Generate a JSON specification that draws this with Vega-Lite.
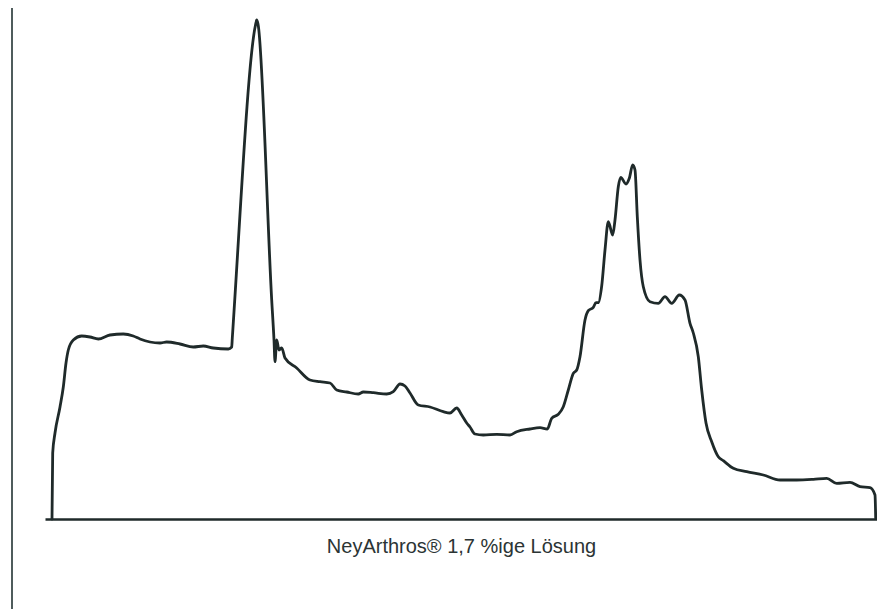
{
  "$schema": "https://vega.github.io/schema/vega-lite/v6.json",
  "autosize": "none",
  "width": 832,
  "height": 519,
  "padding": {"left": 45, "top": 0, "right": 0, "bottom": 90},
  "background": "#ffffff",
  "config": {
    "view": {"stroke": null},
    "font": "Liberation Sans"
  },
  "encoding": {
    "x": {
      "field": "strecke",
      "type": "quantitative",
      "scale": {"domain": [0, 832], "nice": false, "zero": false},
      "axis": {
        "title": "NeyArthros® 1,7 %ige Lösung",
        "titleFont": "Liberation Sans",
        "titleFontSize": 20,
        "titleFontWeight": "normal",
        "titleColor": "#2b3434",
        "titlePadding": 17,
        "labels": false,
        "ticks": false,
        "grid": false,
        "domain": true,
        "domainColor": "#1f2a2a",
        "domainWidth": 2.7
      }
    },
    "y": {
      "field": "extinktion",
      "type": "quantitative",
      "scale": {"domain": [0, 519], "nice": false, "zero": false},
      "axis": null
    }
  },
  "layer": [
    {
      "data": {"values": [{"strecke": -33, "extinktion": 511, "unten": -90}]},
      "mark": {"type": "rule", "color": "#4f5c5c", "strokeWidth": 2, "clip": false},
      "encoding": {
        "y2": {"field": "unten"}
      }
    },
    {
      "data": {
        "values": [
          {"strecke": 7, "extinktion": 0},
          {"strecke": 7.7, "extinktion": 66},
          {"strecke": 10, "extinktion": 86},
          {"strecke": 15, "extinktion": 112},
          {"strecke": 18.3, "extinktion": 132},
          {"strecke": 21, "extinktion": 156},
          {"strecke": 23.3, "extinktion": 169},
          {"strecke": 28.3, "extinktion": 179},
          {"strecke": 36.7, "extinktion": 183},
          {"strecke": 45, "extinktion": 182},
          {"strecke": 53.3, "extinktion": 180},
          {"strecke": 65, "extinktion": 184},
          {"strecke": 78.3, "extinktion": 185},
          {"strecke": 88.3, "extinktion": 183},
          {"strecke": 95, "extinktion": 180},
          {"strecke": 105, "extinktion": 177},
          {"strecke": 115, "extinktion": 176},
          {"strecke": 121.7, "extinktion": 177},
          {"strecke": 135, "extinktion": 175},
          {"strecke": 148.3, "extinktion": 172},
          {"strecke": 158.3, "extinktion": 173},
          {"strecke": 168.3, "extinktion": 171},
          {"strecke": 183.3, "extinktion": 170},
          {"strecke": 186.7, "extinktion": 172},
          {"strecke": 187.3, "extinktion": 181},
          {"strecke": 210.5, "extinktion": 494},
          {"strecke": 211.7, "extinktion": 499},
          {"strecke": 213, "extinktion": 495},
          {"strecke": 226.7, "extinktion": 219},
          {"strecke": 229, "extinktion": 179},
          {"strecke": 230, "extinktion": 157.3},
          {"strecke": 231.7, "extinktion": 179},
          {"strecke": 234, "extinktion": 169},
          {"strecke": 236.7, "extinktion": 171},
          {"strecke": 240, "extinktion": 161},
          {"strecke": 251.7, "extinktion": 151},
          {"strecke": 265, "extinktion": 139},
          {"strecke": 275, "extinktion": 137.3},
          {"strecke": 285, "extinktion": 136},
          {"strecke": 291.7, "extinktion": 129},
          {"strecke": 301.7, "extinktion": 127},
          {"strecke": 313.3, "extinktion": 125},
          {"strecke": 318.3, "extinktion": 127},
          {"strecke": 328.3, "extinktion": 126.3},
          {"strecke": 341.7, "extinktion": 125},
          {"strecke": 348.3, "extinktion": 127.3},
          {"strecke": 355, "extinktion": 135},
          {"strecke": 360, "extinktion": 133},
          {"strecke": 365, "extinktion": 126},
          {"strecke": 373.3, "extinktion": 114},
          {"strecke": 385, "extinktion": 112},
          {"strecke": 398.3, "extinktion": 107.3},
          {"strecke": 405, "extinktion": 106},
          {"strecke": 411.7, "extinktion": 111},
          {"strecke": 416.7, "extinktion": 104},
          {"strecke": 421.7, "extinktion": 96},
          {"strecke": 425, "extinktion": 92},
          {"strecke": 430, "extinktion": 85},
          {"strecke": 438.3, "extinktion": 84},
          {"strecke": 451.7, "extinktion": 84.7},
          {"strecke": 465, "extinktion": 84},
          {"strecke": 471.7, "extinktion": 87.3},
          {"strecke": 485, "extinktion": 90},
          {"strecke": 495, "extinktion": 91.3},
          {"strecke": 502.3, "extinktion": 90},
          {"strecke": 506.7, "extinktion": 100.7},
          {"strecke": 513.3, "extinktion": 104.7},
          {"strecke": 518.3, "extinktion": 112.3},
          {"strecke": 523.3, "extinktion": 129},
          {"strecke": 528.3, "extinktion": 145.7},
          {"strecke": 531.7, "extinktion": 149},
          {"strecke": 535, "extinktion": 162.3},
          {"strecke": 540, "extinktion": 199},
          {"strecke": 543.3, "extinktion": 208.3},
          {"strecke": 548.3, "extinktion": 211.7},
          {"strecke": 551, "extinktion": 216.3},
          {"strecke": 553.3, "extinktion": 216.3},
          {"strecke": 556.7, "extinktion": 233},
          {"strecke": 560, "extinktion": 269},
          {"strecke": 563.3, "extinktion": 297.3},
          {"strecke": 567.7, "extinktion": 284},
          {"strecke": 570, "extinktion": 299},
          {"strecke": 573.3, "extinktion": 332.3},
          {"strecke": 575.7, "extinktion": 341.7},
          {"strecke": 581, "extinktion": 335},
          {"strecke": 584.3, "extinktion": 340.7},
          {"strecke": 587.7, "extinktion": 354},
          {"strecke": 590, "extinktion": 349},
          {"strecke": 592.3, "extinktion": 302.3},
          {"strecke": 595, "extinktion": 259},
          {"strecke": 598.3, "extinktion": 232.3},
          {"strecke": 605, "extinktion": 217.3},
          {"strecke": 613.3, "extinktion": 215.7},
          {"strecke": 620, "extinktion": 222.3},
          {"strecke": 626.7, "extinktion": 215.7},
          {"strecke": 634.3, "extinktion": 224},
          {"strecke": 640, "extinktion": 219},
          {"strecke": 645, "extinktion": 195.7},
          {"strecke": 648.3, "extinktion": 186},
          {"strecke": 653.3, "extinktion": 162.3},
          {"strecke": 656.7, "extinktion": 129},
          {"strecke": 661, "extinktion": 96},
          {"strecke": 666.7, "extinktion": 77.3},
          {"strecke": 673.3, "extinktion": 62.3},
          {"strecke": 678.3, "extinktion": 58.3},
          {"strecke": 688.3, "extinktion": 50.7},
          {"strecke": 701.7, "extinktion": 47.3},
          {"strecke": 718.3, "extinktion": 44},
          {"strecke": 735, "extinktion": 39},
          {"strecke": 751.7, "extinktion": 39},
          {"strecke": 768.3, "extinktion": 39.7},
          {"strecke": 781.7, "extinktion": 40.7},
          {"strecke": 791.7, "extinktion": 35.7},
          {"strecke": 805, "extinktion": 36.7},
          {"strecke": 815, "extinktion": 32.3},
          {"strecke": 825, "extinktion": 31.3},
          {"strecke": 830, "extinktion": 24},
          {"strecke": 830.7, "extinktion": 0.7}
        ]
      },
      "mark": {
        "type": "line",
        "color": "#1f2a2a",
        "strokeWidth": 2.8,
        "strokeJoin": "round",
        "strokeCap": "round",
        "interpolate": "monotone"
      }
    }
  ]
}
